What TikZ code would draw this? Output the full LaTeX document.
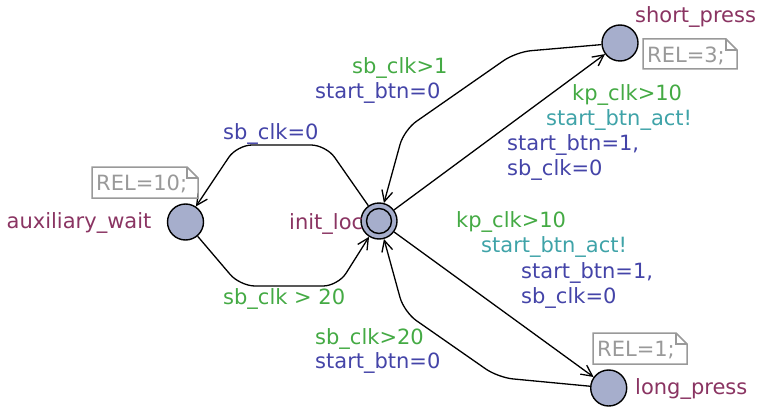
\documentclass[tikz,border=0pt]{standalone}
\usepackage{fontspec}
\setmainfont{DejaVu Sans}
\usetikzlibrary{arrows.meta,calc}
\definecolor{locfill}{HTML}{A6AECC}
\definecolor{locname}{HTML}{8A3462}
\definecolor{guardc}{HTML}{44AA44}
\definecolor{syncc}{HTML}{3FA3A8}
\definecolor{assignc}{HTML}{4444A8}
\definecolor{notec}{HTML}{999999}
\tikzset{
  loc/.style={circle, draw=black, line width=1.4pt, fill=locfill, minimum size=36pt, inner sep=0pt},
  lbl/.style={anchor=base west, inner sep=0pt, font=\fontsize{21}{25}\selectfont},
  lname/.style={lbl, text=locname},
  guard/.style={lbl, text=guardc},
  sync/.style={lbl, text=syncc},
  assign/.style={lbl, text=assignc},
  edge/.style={draw=black, line width=1.3pt, rounded corners=15pt, -{Straight Barb[length=11pt,width=11pt,line width=1.3pt]}},
  notebox/.style={draw=notec, line width=1.5pt, line join=miter},
  notetext/.style={lbl, text=notec}
}
% folded-corner comment box: #1 = top-left, #2 = bottom-right, #3 = text
\newcommand{\commentbox}[3]{%
  \path (#1) coordinate (nbTL) (#2) coordinate (nbBR);
  \path (nbBR |- nbTL) coordinate (nbTR);
  \draw[notebox] (nbTL) -- ($(nbTR)+(-11,0)$) -- ($(nbTR)+(0,11)$)
     -- (nbBR) -- (nbTL |- nbBR) -- cycle;
  \draw[notebox] ($(nbTR)+(-11,0)$) -- ($(nbTR)+(-11,11)$) -- ($(nbTR)+(0,11)$);
  \node[notetext] at ($(nbTL)+(4,23.5)$) {#3};
}
\begin{document}
\begin{tikzpicture}[x=1pt, y=-1pt]
\useasboundingbox (0,0) rectangle (759,409);

% locations
\node[loc] (init) at (379,221) {};
\draw[line width=1.4pt] (init.center) circle[radius=12.5pt];
\node[loc] (aux) at (185.5,222) {};
\node[loc] (shortp) at (620,43) {};
\node[loc] (longp) at (608.7,388) {};

% bend points of the routed transitions
\coordinate (a1) at (326,145);
\coordinate (a2) at (237,145);
\coordinate (b1) at (240,286);
\coordinate (b2) at (338,286);
\coordinate (s1) at (516,52);
\coordinate (s2) at (404,130);
\coordinate (l1) at (498,377.5);
\coordinate (l2) at (404,312);

% transitions
\draw[edge] (init) -- (a1) -- (a2) -- (aux);
\draw[edge] (aux) -- (b1) -- (b2) -- (init);
\draw[edge] (shortp) -- (s1) -- (s2) -- (init);
\draw[edge] (init) -- (shortp);
\draw[edge] (init) -- (longp);
\draw[edge] (longp) -- (l1) -- (l2) -- (init);

% location names
\node[lname] (nInit) at (289,229) {init\_loc};
\node[lname] (nAux) at (6.5,228) {auxiliary\_wait};
\node[lname] (nShort) at (635,22.5) {short\_press};
\node[lname] (nLong) at (635,394) {long\_press};

% labels: init -> auxiliary_wait
\node[assign] (t1a) at (223,139) {sb\_clk=0};
% labels: auxiliary_wait -> init
\node[guard] (t2g) at (223,304) {sb\_clk > 20};
% labels: short_press -> init
\node[guard] (t3g) at (352,73.3) {sb\_clk>1};
\node[assign] (t3a) at (315,99) {start\_btn=0};
% labels: init -> short_press
\node[guard] (t4g) at (572,100) {kp\_clk>10};
\node[sync] (t4s) at (546,125) {start\_btn\_act!};
\node[assign] (t4a) at (507,150.5) {start\_btn=1,};
\node[assign] (t4b) at (507,175.5) {sb\_clk=0};
% labels: init -> long_press
\node[guard] (t5g) at (456,227) {kp\_clk>10};
\node[sync] (t5s) at (481,252.5) {start\_btn\_act!};
\node[assign] (t5a) at (521,278) {start\_btn=1,};
\node[assign] (t5b) at (521,303.5) {sb\_clk=0};
% labels: long_press -> init
\node[guard] (t6g) at (315,344) {sb\_clk>20};
\node[assign] (t6a) at (315,368.5) {start\_btn=0};

% comments
\commentbox{643,39}{737,69}{REL=3;}
\commentbox{92,167}{198,198}{REL=10;}
\commentbox{593,333}{687,364}{REL=1;}
\end{tikzpicture}
\end{document}
